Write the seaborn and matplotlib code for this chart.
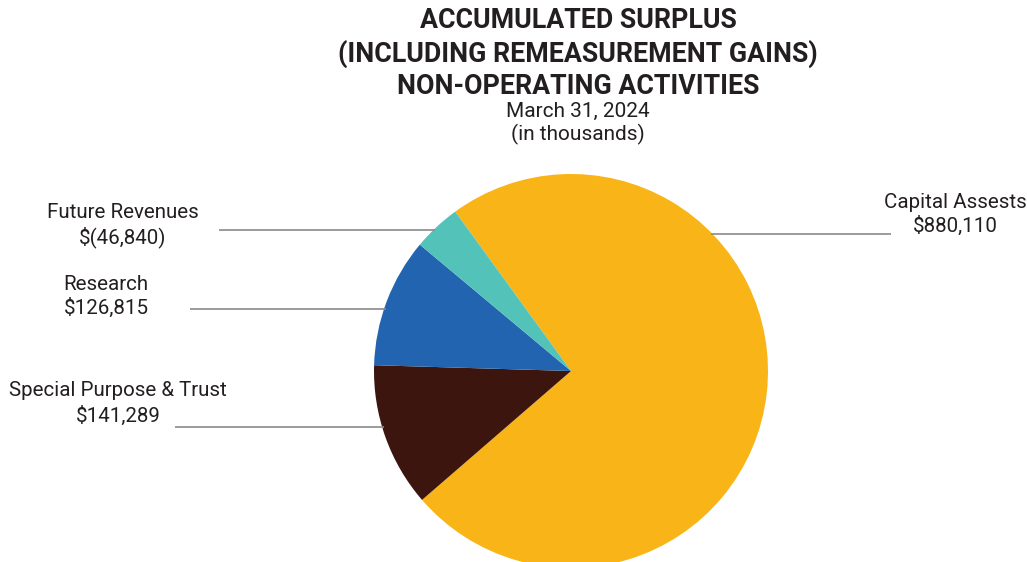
import numpy as np
import matplotlib
matplotlib.use("Agg")
import matplotlib.pyplot as plt
import seaborn as sns

# Accumulated surplus components (in thousands of dollars)
categories = ["Capital Assests", "Special Purpose & Trust", "Research", "Future Revenues"]
values = [880110, 141289, 126815, -46840]
value_labels = ["$880,110", "$141,289", "$126,815", "$(46,840)"]
colors = ["#F9B418", "#3B150E", "#2264B0", "#53C2B8"]

sns.set_theme(style="white")
plt.rcParams["font.family"] = ["Roboto", "DejaVu Sans"]

H = 562
fig = plt.figure(figsize=(10.27, 5.62), dpi=100)
ax = fig.add_axes([0, 0, 1, 1])

cx, cy, r = 571, H - 371, 197
sizes = [abs(v) for v in values]
wedges, _ = ax.pie(sizes, colors=colors, startangle=126, counterclock=False,
                   center=(cx, cy), radius=r, frame=True,
                   wedgeprops=dict(linewidth=0))
ax.set_xlim(0, 1027)
ax.set_ylim(0, H)
ax.set_aspect("equal")
ax.axis("off")

# Label layout in pixels from the top: text centre x, name y, value y,
# leader line y, leader line outer x, side of the pie
label_specs = {
    "Capital Assests": (955, 202, 226, 234, 891, "right"),
    "Special Purpose & Trust": (118, 391, 416, 427, 175, "left"),
    "Research": (106, 284, 308, 309, 190, "left"),
    "Future Revenues": (123, 213, 237, 230, 219, "left"),
}
text_color = "#231f20"
line_color = "#8a8a8a"
for name, vlabel in zip(categories, value_labels):
    tx, ny, vy, ly, lx, side = label_specs[name]
    ly = H - ly
    dy = ly - cy
    dx = np.sqrt(max(r ** 2 - dy ** 2, 0))
    if side == "left":
        ax.plot([lx, cx - dx + 2], [ly, ly], color=line_color, lw=1.2, solid_capstyle="butt")
    else:
        ax.plot([cx + dx - 2, lx], [ly, ly], color=line_color, lw=1.2, solid_capstyle="butt")
    ax.text(tx, H - ny, name, ha="center", va="center", fontsize=14.8, color=text_color)
    ax.text(tx, H - vy, vlabel, ha="center", va="center", fontsize=14.8, color=text_color)

title_lines = ["ACCUMULATED SURPLUS", "(INCLUDING REMEASUREMENT GAINS)", "NON-OPERATING ACTIVITIES"]
for i, t in enumerate(title_lines):
    fig.text(578 / 1027, 1 - (21 + 32.5 * i) / H, t, ha="center", va="center",
             fontsize=19.3, fontweight="bold", color=text_color)
fig.text(578 / 1027, 1 - 111 / H, "March 31, 2024", ha="center", va="center",
         fontsize=15, color=text_color)
fig.text(578 / 1027, 1 - 134 / H, "(in thousands)", ha="center", va="center",
         fontsize=15, color=text_color)

fig.savefig("out.png", dpi=100, facecolor="white")
